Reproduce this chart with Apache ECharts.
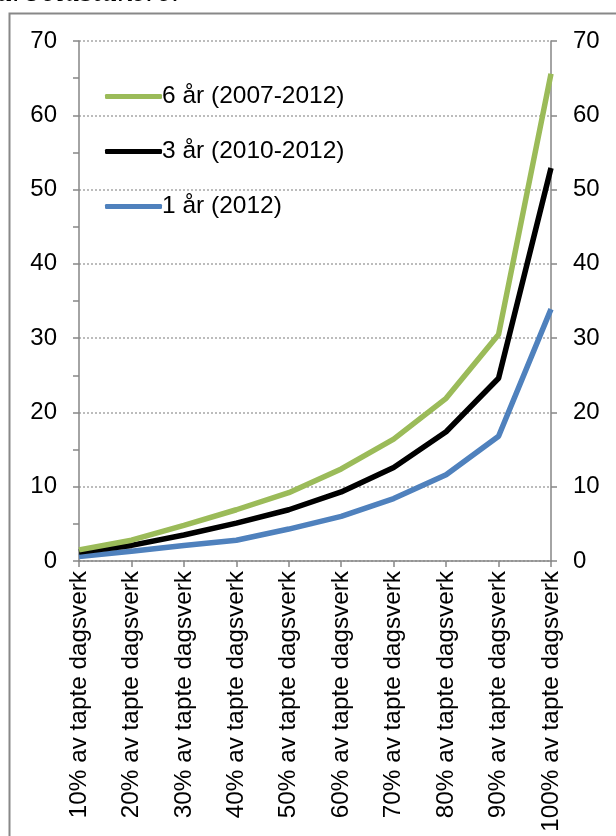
<!DOCTYPE html>
<html>
<head>
<meta charset="utf-8">
<script src="https://cdn.jsdelivr.net/npm/echarts@6/dist/echarts.min.js"></script>
<style>
  html, body { margin: 0; padding: 0; background: #fff; }
  #chart { width: 616px; height: 836px; }
</style>
</head>
<body>
<div id="chart"></div>
<script>
// Share of lost work-days (categories) and cumulative values per period
const categories = [
  '10% av tapte dagsverk', '20% av tapte dagsverk', '30% av tapte dagsverk',
  '40% av tapte dagsverk', '50% av tapte dagsverk', '60% av tapte dagsverk',
  '70% av tapte dagsverk', '80% av tapte dagsverk', '90% av tapte dagsverk',
  '100% av tapte dagsverk'
];
const seriesNames = ['6 år (2007-2012)', '3 år (2010-2012)', '1 år (2012)'];
const sixYears   = [1.5, 2.8, 4.8, 6.9, 9.2, 12.4, 16.4, 21.9, 30.5, 65.6];
const threeYears = [1.2, 2.1, 3.5, 5.1, 6.9, 9.3, 12.6, 17.4, 24.6, 52.9];
const oneYear    = [0.6, 1.3, 2.1, 2.8, 4.3, 6.0, 8.4, 11.6, 16.8, 33.9];
const yTicks = { min: 0, max: 70, interval: 10 };

const colors = ['#9BBB59', '#000000', '#4F81BD'];
const font = '"Liberation Sans", Arial, sans-serif';
const axisGray = '#868686';

const chart = echarts.init(document.getElementById('chart'));

function valueAxis(position, withMinor) {
  return {
    type: 'value',
    position: position,
    min: yTicks.min, max: yTicks.max, interval: yTicks.interval,
    axisLine: { show: true, lineStyle: { color: axisGray, width: 1.5 } },
    axisTick: { show: true, length: 6, lineStyle: { color: axisGray, width: 1.5 } },
    minorTick: { show: withMinor, splitNumber: 2, length: 6, lineStyle: { color: axisGray, width: 1.5 } },
    splitLine: { show: position === 'left', lineStyle: { color: '#A6A6A6', type: [2, 2], width: 1.5 } },
    axisLabel: { color: '#000', fontFamily: font, fontSize: 24, margin: 22 }
  };
}

chart.setOption({
  animation: false,
  backgroundColor: '#fff',
  graphic: [
    {
      type: 'rect',
      shape: { x: 9.5, y: 13.5, width: 700, height: 900 },
      style: { fill: 'none', stroke: '#888', lineWidth: 2 },
      silent: true
    },
    {
      type: 'text',
      x: -3, y: 9,
      style: {
        text: 'arbeidstakere.',
        font: 'italic 32px "Liberation Serif", serif',
        fill: '#000',
        verticalAlign: 'bottom'
      },
      silent: true
    }
  ],
  grid: { left: 79, right: 65, top: 41, bottom: 275, containLabel: false },
  legend: {
    left: 100, top: 79, orient: 'vertical',
    itemWidth: 57, itemHeight: 5, itemGap: 30,
    icon: 'roundRect',
    data: seriesNames,
    textStyle: { color: '#000', fontFamily: font, fontSize: 24.5, padding: [0, 0, 0, -5] }
  },
  xAxis: {
    type: 'category',
    data: categories,
    boundaryGap: false,
    axisLine: { lineStyle: { color: axisGray, width: 1.5 } },
    axisTick: { show: true, length: 6, alignWithLabel: true, lineStyle: { color: axisGray, width: 1.5 } },
    axisLabel: { rotate: 90, color: '#000', fontFamily: font, fontSize: 24.3, margin: 10, interval: 0 },
    splitLine: { show: false }
  },
  yAxis: [valueAxis('left', true), valueAxis('right', false)],
  series: [
    { name: seriesNames[0], type: 'line', data: sixYears },
    { name: seriesNames[1], type: 'line', data: threeYears },
    { name: seriesNames[2], type: 'line', data: oneYear }
  ].map((s, i) => Object.assign(s, {
    yAxisIndex: 0,
    showSymbol: false,
    symbol: 'none',
    color: colors[i],
    lineStyle: { color: colors[i], width: 5.5 },
    z: 3 - i
  }))
});
</script>
</body>
</html>
